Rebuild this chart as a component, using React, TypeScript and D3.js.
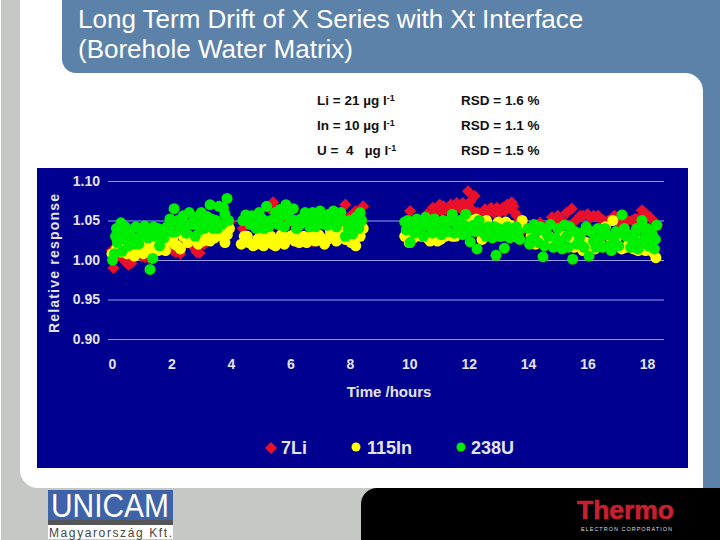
import { useEffect, useRef } from "react";
import * as d3 from "d3";

type Pt = [number, number];

const TITLE = ["Long Term Drift of X Series with Xt Interface", "(Borehole Water Matrix)"];
const NOTES = [
  ["Li = 21 µg l", "RSD = 1.6 %"],
  ["In = 10 µg l", "RSD = 1.1 %"],
  ["U =  4   µg l", "RSD = 1.5 %"],
];
const X_TICKS = [0, 2, 4, 6, 8, 10, 12, 14, 16, 18];
const Y_TICKS = [0.9, 0.95, 1.0, 1.05, 1.1];

const LI: Pt[] = [
  [0.0, 1.012], [0.05, 0.99], [0.2, 1.006], [0.4, 1.0], [0.55, 0.994], [0.65, 0.996], [0.8, 1.01], [1.0, 1.005],
  [1.1, 1.004], [1.25, 1.002], [1.45, 1.012], [1.6, 1.016], [1.8, 1.015], [2.05, 1.012], [2.15, 1.01], [2.3, 1.008],
  [2.5, 1.022], [2.7, 1.018], [2.85, 1.01], [2.95, 1.009], [3.1, 1.02], [3.3, 1.03], [3.6, 1.04], [3.97, 1.048],
  [4.4, 1.04], [4.9, 1.045], [5.3, 1.065], [5.42, 1.073], [5.6, 1.05], [5.95, 1.048], [6.1, 1.026], [6.3, 1.022],
  [6.6, 1.045], [6.75, 1.024], [7.0, 1.05], [7.3, 1.055], [7.55, 1.06], [7.85, 1.07], [8.0, 1.055], [8.2, 1.062], [8.45, 1.068],
  [10.03, 1.062], [10.3, 1.05], [10.6, 1.058], [10.8, 1.066], [11.03, 1.07], [11.15, 1.068], [11.4, 1.07], [11.6, 1.072],
  [11.8, 1.072], [11.98, 1.087], [12.05, 1.074], [12.2, 1.081], [12.3, 1.06], [12.55, 1.064], [12.75, 1.066], [12.95, 1.066],
  [13.15, 1.066], [13.3, 1.07], [13.45, 1.073], [13.55, 1.06], [13.75, 1.035],
  [14.4, 1.047], [14.8, 1.054], [15.0, 1.056], [15.15, 1.05], [15.3, 1.06], [15.47, 1.065], [15.85, 1.056], [16.0, 1.058],
  [16.2, 1.056], [16.35, 1.056], [16.55, 1.05], [16.9, 1.056], [17.05, 1.048], [17.35, 1.05], [17.6, 1.052], [17.83, 1.063],
  [18.0, 1.056], [18.2, 1.05], [18.33, 1.045],
  // second pass over the densest red stretches
  [10.9, 1.06], [11.1, 1.062], [11.3, 1.062], [11.5, 1.064], [11.7, 1.066], [11.9, 1.068], [12.1, 1.064], [12.45, 1.058],
  [12.65, 1.06], [12.85, 1.06], [13.05, 1.06], [13.22, 1.062], [13.38, 1.066], [13.5, 1.068], [13.62, 1.056], [13.7, 1.048],
  [14.9, 1.05], [15.1, 1.05], [15.6, 1.05], [15.75, 1.056], [16.1, 1.054], [16.45, 1.052], [16.7, 1.05], [17.2, 1.05],
  [17.5, 1.05], [17.7, 1.052], [17.92, 1.06], [18.1, 1.054],
];

const IN: Pt[] = [
  [0.0, 1.008], [0.15, 1.014], [0.3, 1.01], [0.45, 1.02], [0.6, 1.012], [0.75, 1.005], [0.9, 1.012], [1.05, 1.008], [1.2, 1.01],
  [1.4, 1.016], [1.55, 1.012], [1.7, 1.018], [1.9, 1.024], [2.05, 1.028], [2.2, 1.018], [2.4, 1.03], [2.55, 1.022],
  [2.7, 1.028], [2.9, 1.02], [3.1, 1.032], [3.3, 1.024], [3.45, 1.028], [3.6, 1.036], [3.8, 1.022], [3.95, 1.04],
  [4.35, 1.02], [4.45, 1.03], [4.6, 1.022], [4.75, 1.018], [4.9, 1.026], [5.1, 1.018], [5.25, 1.026], [5.4, 1.02], [5.6, 1.026],
  [5.8, 1.02], [6.0, 1.03], [6.15, 1.024], [6.3, 1.022], [6.45, 1.03], [6.65, 1.026], [6.85, 1.024], [7.05, 1.028], [7.25, 1.026],
  [7.45, 1.032], [7.65, 1.03], [7.85, 1.026], [8.05, 1.022], [8.2, 1.018], [8.35, 1.03], [8.45, 1.04],
  [9.85, 1.03], [10.0, 1.022], [10.15, 1.028], [10.4, 1.03], [10.6, 1.028], [10.85, 1.032], [11.05, 1.026], [11.2, 1.03],
  [11.45, 1.03], [11.7, 1.044], [12.0, 1.04], [12.25, 1.052], [12.45, 1.026], [12.6, 1.05], [12.85, 1.03], [13.0, 1.048],
  [13.25, 1.048], [13.55, 1.03], [13.75, 1.042], [13.8, 1.05],
  [14.1, 1.03], [14.4, 1.022], [14.7, 1.03], [15.0, 1.018], [15.2, 1.03], [15.4, 1.028], [15.7, 1.024], [15.95, 1.022],
  [16.25, 1.014], [16.4, 1.022], [16.6, 1.042], [16.85, 1.05], [17.0, 1.03], [17.3, 1.016], [17.55, 1.014], [17.8, 1.024],
  [18.05, 1.03], [18.2, 1.01], [18.3, 1.003],
  // second pass, filling the yellow band
  [0.25, 1.018], [0.5, 1.008], [0.85, 1.02], [1.15, 1.018], [1.5, 1.022], [1.8, 1.012], [2.1, 1.02], [2.3, 1.014], [2.6, 1.03],
  [2.85, 1.03], [3.05, 1.024], [3.25, 1.036], [3.5, 1.034], [3.72, 1.03], [3.88, 1.032],
  [4.55, 1.03], [4.85, 1.02], [5.0, 1.032], [5.35, 1.03], [5.5, 1.018], [5.7, 1.032], [5.9, 1.026], [6.1, 1.032], [6.4, 1.024],
  [6.55, 1.022], [6.75, 1.032], [6.95, 1.032], [7.15, 1.02], [7.35, 1.036], [7.55, 1.024], [7.75, 1.036], [7.95, 1.03], [8.15, 1.026], [8.28, 1.04],
  [10.25, 1.032], [10.7, 1.024], [10.95, 1.024], [11.3, 1.034], [11.55, 1.03], [11.85, 1.046], [12.12, 1.05],
  [12.72, 1.036], [13.12, 1.046], [13.4, 1.044],
  [14.25, 1.02], [14.55, 1.03], [14.85, 1.022], [15.55, 1.016], [15.85, 1.012], [16.1, 1.018], [16.75, 1.03], [17.15, 1.014], [17.4, 1.022], [17.7, 1.012], [17.95, 1.012], [18.12, 1.02],
];

const U: Pt[] = [
  [0.02, 1.0], [0.08, 1.008], [0.12, 1.03], [0.18, 1.022], [0.25, 1.038], [0.3, 1.047], [0.34, 1.011], [0.42, 1.03], [0.5, 1.024],
  [0.6, 1.036], [0.7, 1.028], [0.8, 1.042], [0.9, 1.02], [1.0, 1.034], [1.1, 1.043], [1.2, 1.028], [1.28, 0.988], [1.37, 1.002],
  [1.4, 1.042], [1.5, 1.03], [1.6, 1.018], [1.75, 1.028], [1.85, 1.042], [1.95, 1.052], [2.05, 1.035], [2.09, 1.065], [2.2, 1.05],
  [2.3, 1.04], [2.4, 1.056], [2.5, 1.034], [2.6, 1.06], [2.7, 1.045], [2.8, 1.03], [2.9, 1.05], [3.0, 1.06], [3.1, 1.04],
  [3.2, 1.055], [3.3, 1.07], [3.4, 1.04], [3.5, 1.05], [3.6, 1.068], [3.7, 1.045], [3.8, 1.058], [3.87, 1.078], [3.92, 1.05],
  [4.5, 1.057], [4.65, 1.045], [4.8, 1.05], [4.95, 1.06], [5.1, 1.04], [5.2, 1.068], [5.35, 1.05], [5.5, 1.06], [5.6, 1.045],
  [5.7, 1.056], [5.85, 1.07], [6.0, 1.05], [6.1, 1.065], [6.2, 1.04], [6.35, 1.052], [6.5, 1.06], [6.65, 1.042], [6.75, 1.06],
  [6.9, 1.05], [7.0, 1.062], [7.15, 1.045], [7.3, 1.058], [7.45, 1.062], [7.6, 1.05], [7.7, 1.06], [7.85, 1.03], [8.0, 1.05],
  [8.1, 1.033], [8.2, 1.054], [8.3, 1.04], [8.4, 1.05],
  [9.85, 1.048], [9.9, 1.038], [10.03, 1.022], [10.1, 1.044], [10.25, 1.052], [10.4, 1.04], [10.55, 1.054], [10.7, 1.042],
  [10.85, 1.052], [11.0, 1.04], [11.15, 1.05], [11.3, 1.036], [11.45, 1.058], [11.6, 1.044], [11.8, 1.032], [11.9, 1.058],
  [12.05, 1.023], [12.15, 1.044], [12.28, 1.014], [12.35, 1.05], [12.5, 1.034], [12.65, 1.042], [12.8, 1.028], [12.92, 1.006],
  [13.0, 1.04], [13.1, 1.03], [13.2, 1.015], [13.3, 1.042], [13.45, 1.032], [13.6, 1.042], [13.72, 1.026],
  [14.0, 1.04], [14.1, 1.026], [14.2, 1.045], [14.35, 1.022], [14.5, 1.004], [14.6, 1.035], [14.75, 1.045], [14.85, 1.016],
  [15.0, 1.04], [15.15, 1.014], [15.3, 1.03], [15.4, 1.042], [15.5, 1.001], [15.65, 1.02], [15.8, 1.034], [15.95, 1.042],
  [16.05, 1.005], [16.2, 1.024], [16.35, 1.04], [16.5, 1.016], [16.65, 1.032], [16.8, 1.012], [16.95, 1.036], [17.05, 1.018],
  [17.16, 1.057], [17.3, 1.03], [17.45, 1.016], [17.6, 1.034], [17.7, 1.014], [17.83, 1.05], [17.95, 1.03], [18.05, 1.018],
  [18.15, 1.035], [18.25, 1.014], [18.33, 1.044],
  // second pass, filling the green band
  [0.15, 1.04], [0.45, 1.042], [0.55, 1.018], [0.75, 1.02], [0.95, 1.03], [1.15, 1.036], [1.35, 1.03], [1.55, 1.04], [1.7, 1.036], [2.0, 1.048], [2.15, 1.036], [2.35, 1.05], [2.55, 1.045], [2.75, 1.054], [2.95, 1.038], [3.15, 1.05], [3.35, 1.052], [3.55, 1.04], [3.75, 1.066],
  [4.4, 1.05], [4.7, 1.056], [4.85, 1.04], [5.05, 1.052], [5.28, 1.042], [5.45, 1.048], [5.65, 1.064], [5.8, 1.042], [5.95, 1.06], [6.15, 1.05], [6.3, 1.044], [6.45, 1.05], [6.6, 1.05], [6.85, 1.042], [7.05, 1.05], [7.25, 1.044], [7.4, 1.05], [7.55, 1.042], [7.78, 1.05], [7.95, 1.04], [8.15, 1.045], [8.35, 1.06],
  [9.95, 1.05], [10.18, 1.034], [10.32, 1.044], [10.48, 1.03], [10.62, 1.05], [10.78, 1.034], [10.92, 1.046], [11.08, 1.032], [11.22, 1.044], [11.38, 1.05], [11.52, 1.034], [11.7, 1.05], [11.85, 1.044], [12.0, 1.036], [12.22, 1.036], [12.42, 1.04], [12.58, 1.03], [12.75, 1.036], [12.88, 1.042], [13.05, 1.03], [13.25, 1.032], [13.38, 1.028], [13.52, 1.032], [13.68, 1.036],
  [14.05, 1.02], [14.28, 1.036], [14.42, 1.042], [14.55, 1.018], [14.68, 1.03], [14.92, 1.028], [15.08, 1.024], [15.22, 1.044], [15.35, 1.016], [15.58, 1.036], [15.72, 1.026], [15.88, 1.016], [16.12, 1.036], [16.28, 1.016], [16.42, 1.028], [16.58, 1.04], [16.72, 1.018], [16.88, 1.028], [17.1, 1.034], [17.24, 1.04], [17.38, 1.032], [17.52, 1.024], [17.65, 1.04], [17.78, 1.022], [17.88, 1.04], [18.0, 1.04], [18.1, 1.024], [18.2, 1.03], [18.28, 1.026],
];

const LEGEND = ["7Li", "115In", "238U"];
const LEGEND_X = [281, 367, 471];
const RED = "#e8102a";
const YELLOW = "#ffff00";
const GREEN = "#00ee00";
const NAVY = "#000090";
const STEEL = "#5d82aa";
const GREY = "#c5c8c5";
const AXIS_TEXT = "#e4e4ee";
const SANS = "'Liberation Sans', Arial, sans-serif";

const x = d3.scaleLinear().domain([0, 18]).range([112, 647]);
const y = d3.scaleLinear().domain([0.9, 1.1]).range([339, 181]);
const diamond = d3.symbol().type(d3.symbolDiamond2).size(95);

export default function App() {
  const xAxisRef = useRef<SVGGElement>(null);
  const yAxisRef = useRef<SVGGElement>(null);

  useEffect(() => {
    const xAxis = d3.axisBottom(x).tickValues(X_TICKS).tickSize(0).tickPadding(15).tickFormat(d3.format("d") as any);
    const xg = d3.select(xAxisRef.current!);
    xg.call(xAxis as any);
    xg.select(".domain").remove();

    const yAxis = d3.axisLeft(y).tickValues(Y_TICKS).tickSize(-556).tickPadding(8).tickFormat(d3.format(".2f") as any);
    const yg = d3.select(yAxisRef.current!);
    yg.call(yAxis as any);
    yg.select(".domain").remove();
    yg.selectAll("line").attr("stroke", "#9a9cf0").attr("stroke-width", 1);

    for (const g of [xg, yg]) {
      g.attr("font-family", SANS).attr("font-size", 14).attr("font-weight", "bold");
      g.selectAll("text").attr("fill", AXIS_TEXT);
    }
  }, []);

  return (
    <svg width={720} height={540} style={{ position: "absolute", left: 0, top: 0 }} fontFamily={SANS}>
      <rect width={720} height={540} fill="#fff" />
      <rect x={1} width={19} height={540} fill={GREY} />
      <rect x={62} y={-20} width={680} height={93} rx={14} fill={STEEL} />
      <rect x={680} y={50} width={40} height={450} fill={STEEL} />
      <rect x={1} y={470} width={60} height={70} fill={GREY} />
      <rect x={20} y={73} width={683} height={415} rx={18} fill="#fff" />
      <rect x={20} y={73} width={60} height={40} fill="#fff" />
      <rect x={660} y={440} width={43} height={48} fill="#fff" />
      <rect x={40} y={488} width={340} height={52} fill={GREY} />
      <rect x={361} y={488} width={400} height={80} rx={16} fill="#000" />

      {TITLE.map((line, i) => (
        <text key={line} x={78} y={28 + i * 30} fontSize={26} fill="#fff">
          {line}
        </text>
      ))}

      {NOTES.map(([conc, rsd], i) => (
        <g key={rsd} fontSize={13.5} fontWeight="bold" fill="#111">
          <text x={317} y={105 + i * 25} xmlSpace="preserve">
            {conc}
            <tspan fontSize={9} dy={-4}>-1</tspan>
          </text>
          <text x={461} y={105 + i * 25}>{rsd}</text>
        </g>
      ))}

      <rect x={37} y={168} width={651} height={300} fill={NAVY} />
      <g ref={yAxisRef} transform="translate(108,0)" />
      <g ref={xAxisRef} transform="translate(0,344)" />

      {LI.map(([t, v], i) => (
        <path key={i} d={diamond()!} transform={`translate(${x(t)},${y(v)})`} fill={RED} />
      ))}
      {IN.map(([t, v], i) => (
        <circle key={i} cx={x(t)} cy={y(v)} r={5.5} fill={YELLOW} />
      ))}
      {U.map(([t, v], i) => (
        <circle key={i} cx={x(t)} cy={y(v)} r={5.5} fill={GREEN} />
      ))}

      <text x={389} y={397} textAnchor="middle" fontSize={15} fontWeight="bold" fill={AXIS_TEXT}>
        Time /hours
      </text>
      <text
        transform="translate(59,263) rotate(-90)"
        textAnchor="middle"
        fontSize={14}
        fontWeight="bold"
        letterSpacing={1.2}
        fill={AXIS_TEXT}
      >
        Relative response
      </text>

      <path d={diamond()!} transform="translate(271,448)" fill={RED} />
      <circle cx={356} cy={447} r={4.5} fill={YELLOW} />
      <circle cx={461} cy={447} r={4.5} fill={GREEN} />
      {LEGEND.map((name, i) => (
        <text key={name} x={LEGEND_X[i]} y={454} fontSize={18} fontWeight="bold" fill={AXIS_TEXT}>
          {name}
        </text>
      ))}

      <rect x={48} y={490} width={125} height={30} fill="#3f63a8" />
      <text x={110} y={517} textAnchor="middle" fontSize={34} fill="#fff" textLength={118} lengthAdjust="spacingAndGlyphs">
        UNICAM
      </text>
      <rect x={48} y={520} width={125} height={5} fill="#555" />
      <rect x={48} y={525} width={125} height={14} fill="#fff" />
      <text x={49} y={537} fontSize={12} fill="#444" textLength={123}>
        Magyarország Kft.
      </text>

      <text x={577} y={519} fontSize={25} fontWeight="bold" fill="#c8202e" stroke="#c8202e" strokeWidth={0.6} textLength={97} lengthAdjust="spacingAndGlyphs">
        Thermo
      </text>
      <text x={581} y={531} fontSize={5.5} fill="#ddd" textLength={91}>
        ELECTRON CORPORATION
      </text>
    </svg>
  );
}
